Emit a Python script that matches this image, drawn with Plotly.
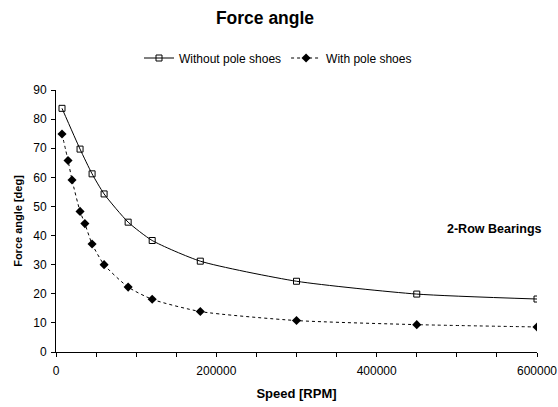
import plotly.graph_objects as go

speed_without = [7500, 30000, 45000, 60000, 90000, 120000, 180000, 300000, 450000, 600000]
angle_without = [83.7, 69.7, 61.2, 54.3, 44.6, 38.3, 31.2, 24.3, 19.9, 18.2]

speed_with = [7500, 15000, 20000, 30000, 36000, 45000, 60000, 90000, 120000, 180000, 300000, 450000, 600000]
angle_with = [74.9, 65.8, 59.1, 48.3, 44.1, 37.1, 30.0, 22.3, 18.1, 13.9, 10.8, 9.4, 8.6]

x_tick_vals = [0, 50000, 100000, 150000, 200000, 250000, 300000, 350000, 400000, 450000, 500000, 550000, 600000]
x_tick_text = ["0", "", "", "", "200000", "", "", "", "400000", "", "", "", "600000"]

FONT = "Liberation Sans, Arial, sans-serif"

fig = go.Figure()
fig.add_trace(go.Scatter(
    x=speed_without, y=angle_without, name="Without pole shoes",
    mode="lines+markers", line=dict(color="black", width=1, shape="spline", smoothing=0.6),
    marker=dict(symbol="square-open", size=6, color="black", line=dict(width=1, color="black")),
))
fig.add_trace(go.Scatter(
    x=speed_with, y=angle_with, name="With pole shoes",
    mode="lines+markers", line=dict(color="black", width=1, dash="dot", shape="spline", smoothing=0.6),
    marker=dict(symbol="diamond", size=7, color="black"),
))

fig.add_annotation(
    text="<b>2-Row Bearings</b>", xref="paper", yref="paper",
    x=(544 - 56) / (537 - 56), y=(352 - 229) / (352 - 90),
    showarrow=False, xanchor="right", yanchor="middle",
    font=dict(family="Liberation Sans Narrow, Arial Narrow, " + FONT, size=12.5, color="black"),
)

fig.update_layout(
    width=558, height=407,
    margin=dict(l=56, r=21, t=90, b=55, autoexpand=False),
    paper_bgcolor="white", plot_bgcolor="white",
    font=dict(family=FONT, size=12, color="black"),
    title=dict(text="<b>Force angle</b>", x=(265) / 558, xanchor="center", y=1 - 18 / 407, yanchor="middle",
               font=dict(size=17.5, family=FONT, color="black")),
    legend=dict(orientation="h", x=(278 - 56) / 481, xanchor="center", y=1 + (90 - 58) / 262, yanchor="middle",
                font=dict(size=12, family=FONT), itemwidth=30, bgcolor="rgba(0,0,0,0)"),
    showlegend=True,
    xaxis=dict(
        range=[0, 600000], showgrid=False, zeroline=False, automargin=False,
        showline=True, linecolor="black", linewidth=1,
        tickmode="array", tickvals=x_tick_vals, ticktext=x_tick_text,
        ticks="outside", ticklen=4, tickcolor="black", ticklabelstandoff=4,
        title=dict(text="<b>Speed [RPM]</b>", font=dict(size=13), standoff=11),
        tickfont=dict(size=12),
    ),
    yaxis=dict(
        range=[0, 90], showgrid=False, zeroline=False, automargin=False,
        showline=True, linecolor="black", linewidth=1,
        tickmode="linear", dtick=10, tick0=0,
        ticks="outside", ticklen=4, tickcolor="black", ticklabelstandoff=2,
        title=dict(text="<b>Force angle [deg]</b>", font=dict(size=11, color="black"), standoff=8),
        tickfont=dict(size=12),
    ),
    xaxis2=dict(
        overlaying="x", anchor="y", range=[0, 600000], showgrid=False, zeroline=False,
        tickmode="array", tickvals=x_tick_vals, showticklabels=False,
        ticks="inside", ticklen=4, tickcolor="black", showline=False, automargin=False,
    ),
    yaxis2=dict(
        overlaying="y", anchor="x", side="left", range=[0, 90], showgrid=False, zeroline=False,
        tickmode="linear", dtick=5, tick0=0, showticklabels=False,
        ticks="inside", ticklen=4, tickcolor="black", showline=False, automargin=False,
    ),
)

fig.write_html("out.html", config={"displayModeBar": False},
               post_script="document.body.style.margin='0';")
